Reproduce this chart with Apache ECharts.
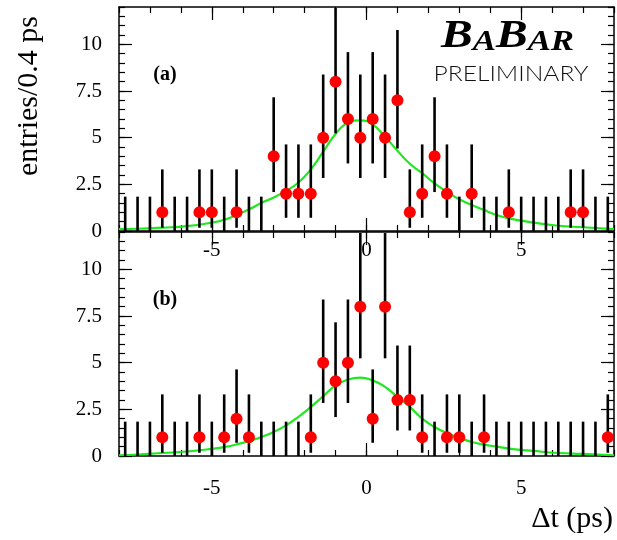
<!DOCTYPE html>
<html>
<head>
<meta charset="utf-8">
<script src="https://cdn.jsdelivr.net/npm/echarts@6/dist/echarts.min.js"></script>
<style>html,body{margin:0;padding:0;background:#fff}#c{width:617px;height:540px}</style>
</head>
<body>
<div id="c"></div>
<script>
// ---- data ----
var binCenters = [-7.8,-7.4,-7.0,-6.6,-6.2,-5.8,-5.4,-5.0,-4.6,-4.2,-3.8,-3.4,-3.0,-2.6,-2.2,-1.8,-1.4,-1.0,-0.6,-0.2,
                   0.2,0.6,1.0,1.4,1.8,2.2,2.6,3.0,3.4,3.8,4.2,4.6,5.0,5.4,5.8,6.2,6.6,7.0,7.4,7.8];
var countsA = [0,0,0,1,0,0,1,1,0,1,0,0,4,2,2,2,5,8,6,5,
               6,5,7,1,2,4,2,0,2,0,0,1,0,0,0,0,1,1,0,0];
var countsB = [0,0,0,1,0,0,1,0,1,2,1,0,0,0,0,1,5,4,5,8,
               2,8,3,3,1,0,1,1,0,1,0,0,0,0,0,0,0,0,0,1];
// Poisson interval half-widths, indexed by count
var poissonLo = [0,0.827,1.292,1.633,1.914,2.159,2.380,2.581,2.768];
var poissonHi = [1.841,2.300,2.638,2.918,3.163,3.383,3.583,3.770,3.945];
var curveX = [-8,-7.4,-6.6,-5.8,-5.0,-4.6,-4.2,-3.8,-3.4,-3.0,-2.6,-2.2,-1.8,-1.4,-1.0,-0.6,-0.2,
              0.2,0.6,1.0,1.4,1.8,2.2,2.6,3.0,3.4,3.8,4.2,4.6,5.4,6.2,7.0,8.0];
var curveA = [0.1,0.12,0.18,0.26,0.45,0.6,0.86,1.16,1.5,1.8,2.15,2.6,3.3,4.25,5.2,5.8,5.93,
              5.7,5.05,4.3,3.6,3.1,2.55,2.1,1.7,1.4,1.12,0.86,0.68,0.45,0.28,0.2,0.1];
var curveB = [0.04,0.08,0.16,0.24,0.38,0.48,0.62,0.8,1.02,1.29,1.64,2.1,2.63,3.2,3.78,4.1,4.2,
              4.05,3.7,3.16,2.63,2.0,1.55,1.23,0.98,0.75,0.61,0.5,0.4,0.27,0.16,0.11,0.04];
var xMajorTicks = [-5,0,5];
var yMajorTicks = [0,2.5,5,7.5,10];

// ---- build ----
var serif = 'Liberation Serif';
function pts(counts){ var r=[]; counts.forEach(function(c,i){ if(c>0) r.push([binCenters[i],c]); }); return r; }
function errs(counts){ return counts.map(function(c,i){ return [binCenters[i], c-poissonLo[c], c+poissonHi[c]]; }); }
function curve(ys){ return curveX.map(function(x,i){ return [x, ys[i]]; }); }

var grids = [{left:119,right:3,top:7,height:224},{left:119,right:3,top:232,height:224}];
var xAxes=[], yAxes=[];
var labelMargins=[9,22];
var lineOn = {show:true,onZero:false,lineStyle:{color:'#000',width:1.5}};
var lineOff = {show:false,onZero:false};
function tick(len, custom){ var t={inside:true,length:len,lineStyle:{color:'#000',width:1.2}}; if(custom) t.customValues=custom; return t; }
for (var g=0; g<2; g++){
  var base = {type:'value',gridIndex:g,min:-8,max:8,splitLine:{show:false}};
  xAxes.push(Object.assign({},base,{position:'bottom',interval:1,axisLine:lineOn,axisTick:tick(6),axisLabel:{show:false}}));
  xAxes.push(Object.assign({},base,{position:'bottom',axisLine:lineOff,axisTick:tick(13,xMajorTicks),
    axisLabel:{show:true,customValues:xMajorTicks,margin:labelMargins[g],fontFamily:serif,fontSize:21,color:'#000'}}));
  xAxes.push(Object.assign({},base,{position:'top',interval:1,axisLine:lineOn,axisTick:tick(6),axisLabel:{show:false}}));
  xAxes.push(Object.assign({},base,{position:'top',axisLine:lineOff,axisTick:tick(13,xMajorTicks),axisLabel:{show:false}}));
  var ybase = {type:'value',gridIndex:g,min:0,max:12,splitLine:{show:false}};
  yAxes.push(Object.assign({},ybase,{position:'left',interval:0.5,axisLine:lineOn,axisTick:tick(6),axisLabel:{show:false}}));
  yAxes.push(Object.assign({},ybase,{position:'left',axisLine:lineOff,axisTick:tick(13,yMajorTicks),
    axisLabel:{show:true,customValues:yMajorTicks,margin:17,fontFamily:serif,fontSize:21,color:'#000'}}));
  yAxes.push(Object.assign({},ybase,{position:'right',interval:0.5,axisLine:lineOn,axisTick:tick(6),axisLabel:{show:false}}));
  yAxes.push(Object.assign({},ybase,{position:'right',axisLine:lineOff,axisTick:tick(13,yMajorTicks),axisLabel:{show:false}}));
}

function errRender(params, api){
  var x=api.value(0), lo=api.value(1), hi=api.value(2);
  var p1=api.coord([x,lo]), p2=api.coord([x,hi]);
  return {type:'line',shape:{x1:p1[0],y1:p1[1],x2:p2[0],y2:p2[1]},style:{stroke:'#000',lineWidth:2.6}};
}
var series=[];
[[countsA,curveA],[countsB,curveB]].forEach(function(d,g){
  series.push({type:'line',xAxisIndex:4*g,yAxisIndex:4*g,data:curve(d[1]),smooth:0.5,showSymbol:false,
    lineStyle:{color:'#1ee81e',width:2.2},z:2,animation:false});
  series.push({type:'custom',xAxisIndex:4*g,yAxisIndex:4*g,data:errs(d[0]),renderItem:errRender,
    encode:{x:0,y:[1,2]},clip:true,z:3,animation:false});
  series.push({type:'scatter',xAxisIndex:4*g,yAxisIndex:4*g,data:pts(d[0]),symbol:'circle',symbolSize:12,
    itemStyle:{color:'#ff0000',opacity:1},z:4,animation:false});
});

var chart = echarts.init(document.getElementById('c'));
chart.setOption({
  animation:false,
  grid:grids, xAxis:xAxes, yAxis:yAxes, series:series,
  graphic:[
    {type:'text',x:29,y:96,rotation:Math.PI/2,style:{text:'entries/0.4 ps',font:'30px "Liberation Serif"',fill:'#000',align:'center',verticalAlign:'middle'}},
    {type:'text',x:613,y:519,style:{text:'Δt (ps)',font:'30px "Liberation Serif"',fill:'#000',align:'right',verticalAlign:'middle'}},
    {type:'text',x:165,y:75,style:{text:'(a)',font:'bold 20px "Liberation Serif"',fill:'#000',align:'center',verticalAlign:'middle'}},
    {type:'text',x:165,y:300,style:{text:'(b)',font:'bold 20px "Liberation Serif"',fill:'#000',align:'center',verticalAlign:'middle'}},
    {type:'text',x:441,y:57,scaleX:1.16,style:{text:'{B|B}{A|A}{B|B}{A|AR}',align:'left',verticalAlign:'bottom',fill:'#000',
      rich:{B:{fontSize:41,fontStyle:'italic',fontWeight:'bold',fontFamily:serif,verticalAlign:'bottom',lineHeight:41},
            A:{fontSize:30,fontStyle:'italic',fontWeight:'bold',fontFamily:serif,verticalAlign:'bottom',lineHeight:33}}}},
    {type:'text',x:511,y:74,scaleX:1.12,style:{text:'PRELIMINARY',font:'300 22px Lato',fill:'#111',align:'center',verticalAlign:'middle'}}
  ]
});
</script>
</body>
</html>
